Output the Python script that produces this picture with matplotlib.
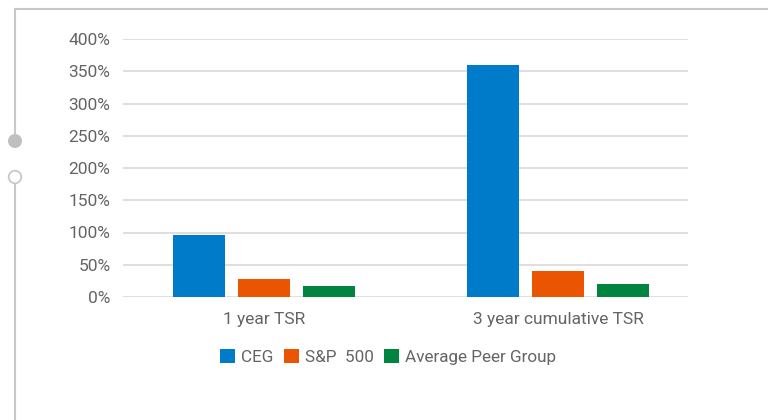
import matplotlib
matplotlib.use("Agg")
import matplotlib.pyplot as plt
import numpy as np
from matplotlib.patches import Circle, Patch

# Data
categories = ["1 year TSR", "3 year cumulative TSR"]
series = ["CEG", "S&P  500", "Average Peer Group"]
ceg = [96, 360]
sp500 = [28, 40]
peers = [17, 20]
colors = ["#007BC9", "#EA5504", "#00843F"]
yticks = [0, 50, 100, 150, 200, 250, 300, 350, 400]

plt.rcParams['font.family'] = ['Roboto', 'DejaVu Sans']
txt_color = "#646464"

W, H = 768, 420
fig = plt.figure(figsize=(W / 100, H / 100), dpi=100)

# overlay for frame decorations, pixel coords
deco = fig.add_axes([0, 0, 1, 1])
deco.set_xlim(0, W)
deco.set_ylim(H, 0)
deco.axis("off")
gray = "#C8C8CA"
deco.plot([15, W], [9, 9], color=gray, lw=1.5)
deco.plot([15, 15], [9, 134], color=gray, lw=1.5)
deco.plot([15, 15], [184, H], color=gray, lw=1.5)
deco.add_patch(Circle((15, 141), 7, facecolor="#BFBFC1", edgecolor="none"))
deco.add_patch(Circle((15, 177), 6.3, facecolor="white", edgecolor=gray, lw=1.3))

# main chart
left, right = 123, 688
top, bottom = 39, 297
ax = fig.add_axes([left / W, 1 - bottom / H, (right - left) / W, (bottom - top) / H])
x = np.arange(len(categories))
bw = 52 / 294
off = 65 / 294
for i, (vals, c) in enumerate(zip([ceg, sp500, peers], colors)):
    ax.bar(x + (i - 1) * off, vals, width=bw, color=c, zorder=3)

ax.set_xlim((123 - 264) / 294, (688 - 264) / 294)
ax.set_ylim(0, 400)
ax.set_yticks(yticks)
ax.set_yticklabels([f"{v}%" for v in yticks])
ax.set_xticks(x)
ax.set_xticklabels(categories)
ax.grid(axis="y", color="#D9D9D9", lw=1.2, zorder=0)
for s in ax.spines.values():
    s.set_visible(False)
ax.tick_params(axis="both", length=0, colors=txt_color, labelsize=12.5)
ax.tick_params(axis="y", pad=9)
ax.tick_params(axis="x", pad=10.5)

handles = [Patch(facecolor=c, edgecolor="none") for c in colors]
leg = fig.legend(handles, series, loc="center", bbox_to_anchor=(388 / W, 1 - 357 / H),
                 ncol=3, frameon=False, handlelength=0.9, handleheight=0.9,
                 handletextpad=0.35, columnspacing=0.6, fontsize=12.3)
for t in leg.get_texts():
    t.set_color(txt_color)

fig.savefig("out.png", dpi=100, facecolor="white")
